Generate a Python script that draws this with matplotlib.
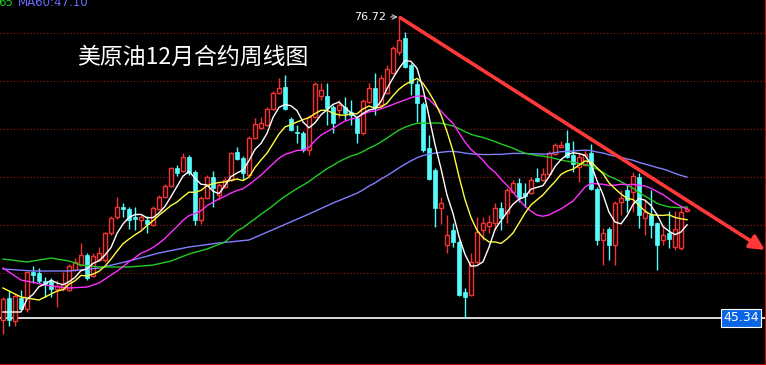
import numpy as np
import pandas as pd
import matplotlib
matplotlib.use("Agg")
import matplotlib.pyplot as plt

plt.rcParams['font.family'] = ['Noto Sans CJK SC', 'DejaVu Sans']

# weekly candles (price)
opens = [45.11, 47.40, 45.00, 47.40, 46.25, 50.11, 50.00, 49.17, 49.17, 48.34,
         48.34, 48.23, 50.31, 50.84, 51.88, 49.69, 51.36, 51.36, 54.17, 55.84,
         56.88, 56.67, 55.84, 55.52, 55.52, 55.00, 56.67, 57.92, 59.07, 60.94,
         60.63, 62.09, 60.52, 55.52, 57.81, 60.00, 58.13, 58.96, 59.69, 62.61,
         61.98, 60.21, 64.06, 65.11, 65.42, 67.09, 68.75, 69.38, 66.04, 64.69,
         64.59, 62.81, 66.25, 68.44, 68.44, 67.29, 66.98, 67.29, 66.77, 66.15,
         64.59, 67.81, 69.27, 67.50, 68.75, 70.84, 73.02, 74.48, 71.67, 69.69,
         67.61, 63.02, 60.73, 56.77, 52.92, 54.48, 53.23, 48.02, 47.71, 51.15,
         54.48, 54.90, 55.21, 56.77, 56.25, 58.44, 59.38, 58.34, 58.34, 59.90,
         59.69, 60.32, 62.40, 63.13, 63.54, 62.29, 61.04, 61.25, 62.50, 58.75,
         53.44, 54.59, 52.92, 57.40, 58.65, 58.44, 60.00, 55.73, 56.04, 55.21,
         53.44, 54.17, 52.71, 52.61, 56.46]
closes = [47.29, 45.11, 47.61, 46.25, 50.11, 49.79, 49.17, 48.86, 48.34, 48.65,
          48.86, 50.73, 51.15, 51.88, 49.48, 51.77, 52.09, 54.17, 55.73, 56.88,
          56.67, 55.52, 55.63, 55.84, 55.11, 56.77, 57.92, 59.07, 60.94, 60.42,
          62.09, 60.42, 55.52, 57.81, 60.00, 58.86, 59.17, 59.69, 62.50, 61.88,
          60.42, 64.06, 65.52, 65.63, 67.09, 68.75, 69.27, 67.09, 64.90, 64.59,
          62.81, 66.25, 69.69, 69.06, 67.19, 65.63, 67.50, 66.67, 66.46, 64.59,
          67.92, 69.27, 67.29, 70.32, 71.25, 73.44, 74.27, 71.46, 69.79, 67.71,
          62.81, 59.79, 56.77, 57.29, 53.96, 53.23, 47.71, 47.50, 51.15, 54.27,
          55.21, 55.31, 56.77, 55.73, 58.65, 59.38, 57.92, 58.02, 59.69, 59.59,
          60.32, 62.50, 63.34, 63.34, 62.09, 61.36, 62.09, 62.40, 58.75, 53.44,
          54.17, 52.92, 57.29, 57.81, 57.61, 60.11, 56.04, 56.36, 55.00, 52.92,
          53.96, 53.54, 54.59, 56.36, 56.67]
highs = [47.50, 48.23, 47.81, 48.23, 50.21, 50.73, 50.52, 49.59, 49.48, 49.27,
         50.11, 50.94, 51.56, 53.13, 52.09, 52.09, 52.71, 54.27, 55.94, 57.92,
         57.29, 56.88, 56.88, 56.04, 55.94, 56.98, 58.13, 59.27, 61.04, 61.25,
         62.50, 62.29, 60.73, 58.02, 60.21, 60.63, 59.38, 60.00, 62.61, 63.13,
         62.19, 64.27, 66.15, 66.25, 67.29, 68.96, 70.31, 70.63, 66.25, 65.42,
         64.79, 66.46, 69.90, 69.79, 69.79, 67.50, 68.02, 68.34, 68.02, 66.36,
         68.13, 69.79, 70.84, 70.63, 71.67, 73.65, 76.72, 75.11, 71.88, 70.11,
         67.81, 64.38, 60.94, 57.92, 56.04, 55.21, 53.44, 48.44, 52.09, 55.84,
         55.84, 56.04, 57.29, 57.40, 58.86, 59.69, 59.90, 59.38, 60.00, 60.94,
         60.94, 62.71, 63.54, 63.75, 64.90, 63.75, 62.50, 62.81, 63.44, 58.96,
         54.69, 54.79, 57.50, 58.65, 59.17, 60.52, 60.42, 57.61, 58.65, 55.31,
         54.90, 56.46, 56.46, 56.88, 56.88]
lows = [43.65, 44.48, 44.48, 46.15, 45.94, 48.96, 48.96, 47.50, 47.50, 46.46,
        48.13, 48.13, 50.21, 50.73, 49.27, 49.59, 51.25, 51.15, 53.96, 55.63,
        55.84, 54.59, 54.48, 54.59, 54.17, 54.90, 56.56, 57.81, 58.96, 60.11,
        60.52, 60.21, 55.00, 55.11, 57.71, 56.88, 57.61, 58.86, 59.59, 61.77,
        59.69, 60.11, 63.96, 65.00, 65.31, 66.98, 68.65, 66.98, 64.79, 63.54,
        62.61, 62.29, 66.15, 68.02, 65.42, 64.59, 66.15, 65.94, 65.42, 63.54,
        64.38, 67.71, 66.46, 67.40, 68.65, 70.73, 72.71, 71.36, 68.54, 65.73,
        62.61, 59.69, 54.79, 55.11, 52.09, 52.71, 47.61, 45.34, 47.61, 51.04,
        53.44, 54.17, 54.48, 54.48, 55.21, 58.34, 57.40, 56.88, 58.23, 59.48,
        59.59, 60.21, 62.29, 63.02, 61.98, 60.52, 59.48, 61.15, 58.65, 52.92,
        50.84, 51.36, 50.84, 56.04, 56.36, 56.36, 54.69, 53.96, 53.65, 50.31,
        52.92, 52.61, 52.40, 52.40, 56.36]

# moving-average values before enough bars are visible
ma5_head_idx = [0, 3]
ma5_head = [45.94, 45.94]
ma10_head_idx = [0, 3, 6]
ma10_head = [48.44, 47.50, 47.19]
ma20_head_idx = [0, 3, 8, 11, 14, 16]
ma20_head = [50.52, 49.27, 48.65, 48.44, 48.54, 48.96]
ma40_head_idx = [0, 4, 8, 11, 13, 16, 21, 25, 28, 31, 34, 37]
ma40_head = [51.46, 51.15, 51.56, 51.25, 50.83, 50.63, 50.63, 50.83, 51.25, 51.98, 52.50, 53.23]
ma60_head_idx = [0, 5, 11, 16, 21, 26, 31, 36, 41, 46, 51, 55]
ma60_head = [50.42, 50.21, 50.21, 50.52, 51.25, 52.09, 52.71, 53.13, 53.44, 54.79, 56.15, 57.29]

grid_levels = [50, 55, 60, 65, 70, 75]
low_mark = 45.34
high_mark = 76.72
trend_start = (66.2, 76.6)
trend_end = (127.0, 52.4)

title = "美原油12月合约周线图"

N = len(closes)
idx = np.arange(N)
o = np.array(opens)
c = np.array(closes)
h = np.array(highs)
l = np.array(lows)

fig = plt.figure(figsize=(7.66, 3.65), dpi=100)
fig.patch.set_facecolor('black')
ax = fig.add_axes([0, 0, 1, 1])
ax.set_facecolor('black')
ax.set_xlim(-0.5, -0.5 + 766 / 6.0)
ax.set_ylim(78.44 - 365 / 9.6, 78.44)
ax.set_xticks([])
ax.set_yticks([])
for s in ['top', 'left']:
    ax.spines[s].set_visible(False)
for s in ['right', 'bottom']:
    ax.spines[s].set_color('#c01010')
    ax.spines[s].set_linewidth(2)

for g in grid_levels:
    ax.axhline(g, color='#a01818', lw=0.8, ls=(0, (1, 2)), zorder=1)
ax.axhline(low_mark, color='white', lw=1.2, zorder=2)

up = c >= o
red = '#f03434'
cyan = '#54fcfc'
w = 0.78
# wicks
ax.vlines(idx[up], l[up], h[up], color=red, lw=1, zorder=3)
ax.vlines(idx[~up], l[~up], h[~up], color=cyan, lw=1, zorder=3)
# bodies
ax.bar(idx[up], c[up] - o[up], bottom=o[up], width=w, facecolor='#140000',
       edgecolor=red, linewidth=1, zorder=4)
ax.bar(idx[~up], o[~up] - c[~up], bottom=c[~up], width=w, facecolor=cyan,
       edgecolor=cyan, linewidth=0.5, zorder=4)

s = pd.Series(closes)
def ma_line(n, head_idx, head_vals):
    m = s.rolling(n).mean()
    xs = list(head_idx) + list(range(n - 1, N))
    ys = list(head_vals) + list(m[n - 1:])
    return xs, ys

for n, hi_, hv, col in [(60, ma60_head_idx, ma60_head, '#8080ff'),
                        (40, ma40_head_idx, ma40_head, '#22cc22'),
                        (20, ma20_head_idx, ma20_head, '#ff30ff'),
                        (10, ma10_head_idx, ma10_head, '#ffff40'),
                        (5, ma5_head_idx, ma5_head, '#ffffff')]:
    xs, ys = ma_line(n, hi_, hv)
    ax.plot(xs, ys, color=col, lw=1, zorder=5)

# trend line
ax.annotate('', xy=trend_end, xytext=trend_start,
            arrowprops=dict(arrowstyle='-|>', color='#ff3838', lw=2.6,
                            mutation_scale=22, shrinkA=0, shrinkB=0), zorder=6)

# high label
ax.annotate('76.72', xy=(65.8, high_mark - 0.05), xytext=(63.9, high_mark - 0.05),
            color='white', fontsize=8, ha='right', va='center',
            family=['DejaVu Sans'],
            arrowprops=dict(arrowstyle='->', color='#c8c8c8', lw=0.8,
                            shrinkA=1, shrinkB=0))

# low label box
ax.text(741 / 766, low_mark, '45.34', transform=ax.get_yaxis_transform(),
        color='white', fontsize=9, ha='center', va='center', zorder=7,
        family=['DejaVu Sans'],
        bbox=dict(boxstyle='square,pad=0.2', facecolor='#0a64e6',
                  edgecolor='white', linewidth=0.8))

fig.text(77 / 766, 1 - 57 / 365, title, color='white', fontsize=16.5,
         ha='left', va='center')

fig.text(-2 / 766, 1 - 2.5 / 365, '65', color='#22cc22', fontsize=8.5,
         ha='left', va='center', family=['DejaVu Sans'])
fig.text(18 / 766, 1 - 2.5 / 365, 'MA60:47.10', color='#6a6aff', fontsize=8.5,
         ha='left', va='center', family=['DejaVu Sans'])

fig.savefig('out.png', dpi=100, facecolor='black')
